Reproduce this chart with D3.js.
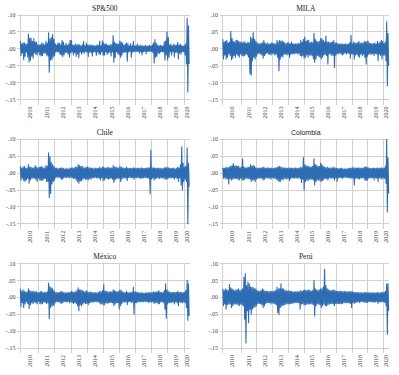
<!DOCTYPE html>
<html>
<head>
<meta charset="utf-8">
<script src="https://cdn.jsdelivr.net/npm/d3@7"></script>
<style>
	body { margin: 0; background: #fff; }
	svg { display: block; }
	.grid line { stroke: #c6c6c6; stroke-width: 0.8; shape-rendering: crispEdges; }
	.tick-label { font-family: "Liberation Serif", "DejaVu Serif", serif; font-size: 6px; fill: #444; }
	.title { font-family: "Liberation Serif", serif; font-size: 7.5px; fill: #222; }
	.title.sans { font-family: "Liberation Sans", Arial, sans-serif; font-size: 7px; }
	.series { fill: none; stroke: #2e6db4; stroke-width: 1.1; stroke-linejoin: round; }
</style>
</head>
<body>
<div id="graphic"></div>
<script>

// first month of the daily series shown (Nov 2009), one hi/lo pair per month, in %
const startYear = 2009;
const startMonth = 10;
const endYear = 2020 + 4 / 12;

const yTicks = [0.10, 0.05, 0, -0.05, -0.10, -0.15];
const yearLabels = [2010, 2011, 2012, 2013, 2014, 2015, 2016, 2017, 2018, 2019, 2020];

// SP&500
const spHi = [2.3, 1.5,
	1.8, 1.8, 1.4, 1.4, 4.4, 3.2, 3.1, 2.2, 3.0, 2.0, 2.0, 1.2,
	1.2, 1.2, 1.8, 1.5, 1.2, 2.2, 1.6, 4.7, 2.9, 3.4, 4.2, 2.9,
	1.5, 1.1, 1.8, 1.6, 1.2, 2.5, 2.0, 1.0, 1.6, 1.0, 1.4, 2.5,
	2.5, 1.1, 1.0, 1.4, 1.1, 1.4, 1.1, 0.9, 1.2, 2.2, 0.9, 1.7,
	1.1, 1.2, 1.0, 1.1, 1.0, 0.9, 0.9, 1.2, 1.0, 2.3, 0.9, 2.4,
	1.8, 1.3, 1.4, 1.1, 1.0, 1.2, 1.2, 3.9, 2.0, 1.6, 1.5, 1.4,
	2.4, 2.0, 1.7, 1.0, 1.4, 1.8, 1.5, 0.9, 1.5, 0.9, 2.2, 0.9,
	0.9, 1.4, 0.9, 1.1, 0.9, 0.9, 0.8, 1.0, 0.8, 0.9, 1.0, 0.8,
	1.2, 1.8, 2.7, 1.7, 1.1, 0.9, 1.1, 0.9, 0.8, 2.1, 2.3, 5.0,
	3.4, 1.1, 1.4, 0.9, 1.3, 1.1, 1.1, 1.9, 1.1, 1.4, 0.9, 0.9,
	1.0, 1.5, 9.0, 6.8];
const spLo = [-2.0, -1.2,
	-3.2, -2.2, -1.0, -2.4, -3.9, -3.4, -2.2, -2.8, -1.2, -1.6, -1.8, -0.9,
	-1.8, -2.1, -2.0, -1.2, -1.3, -1.8, -2.1, -6.9, -3.3, -3.2, -2.4, -2.0,
	-0.9, -0.9, -0.9, -1.7, -1.8, -2.3, -1.8, -1.1, -1.1, -1.5, -2.4, -1.2,
	-0.9, -1.8, -1.1, -2.3, -1.5, -2.6, -0.9, -1.6, -1.0, -1.3, -0.8, -1.0,
	-2.3, -0.9, -1.1, -2.1, -0.9, -0.9, -2.0, -0.9, -1.6, -1.7, -0.9, -1.9,
	-1.9, -0.9, -1.7, -1.2, -1.0, -2.1, -0.9, -4.0, -2.6, -0.9, -1.4, -1.8,
	-2.5, -1.9, -1.1, -1.0, -1.0, -3.7, -0.9, -0.8, -2.5, -0.9, -0.9, -0.8,
	-0.8, -0.8, -1.2, -0.9, -1.8, -0.9, -0.8, -1.5, -0.8, -0.8, -0.8, -0.8,
	-1.1, -4.2, -2.5, -2.2, -1.2, -1.4, -0.9, -0.9, -0.9, -3.3, -1.8, -3.3,
	-2.5, -0.9, -1.9, -0.8, -2.4, -1.0, -1.1, -3.0, -1.2, -1.6, -0.8, -1.0,
	-1.8, -4.5, -12.8, -4.5];

// MILA
const milaHi = [2.8, 2.0,
	2.2, 2.5, 1.8, 2.0, 5.2, 3.0, 2.2, 2.0, 2.5, 2.5, 2.2, 2.0,
	2.0, 1.8, 2.2, 1.8, 1.6, 2.0, 1.8, 3.5, 3.0, 4.8, 2.8, 2.2,
	1.8, 1.5, 1.5, 1.6, 1.8, 2.5, 1.8, 1.4, 1.8, 1.4, 1.5, 1.8,
	1.6, 1.5, 1.4, 2.5, 2.0, 2.5, 2.2, 2.4, 2.0, 1.8, 1.5, 1.8,
	1.8, 1.5, 2.0, 1.5, 1.5, 1.4, 1.5, 1.6, 1.5, 2.5, 2.0, 2.8,
	3.5, 2.2, 2.5, 2.5, 1.8, 2.0, 1.8, 4.6, 2.8, 2.2, 2.0, 2.2,
	3.0, 3.0, 2.5, 2.0, 3.8, 2.0, 2.0, 1.8, 2.0, 2.0, 2.5, 1.8,
	1.8, 1.5, 1.5, 1.4, 1.5, 1.4, 1.3, 1.5, 1.3, 1.4, 1.8, 4.0,
	1.5, 2.0, 1.8, 1.6, 1.8, 2.2, 1.6, 1.8, 1.6, 2.2, 2.0, 2.2,
	2.2, 1.6, 1.6, 1.5, 1.5, 1.8, 1.4, 2.2, 1.6, 2.0, 2.5, 2.2,
	1.6, 2.0, 8.0, 4.5];
const milaLo = [-3.0, -1.8,
	-3.0, -2.5, -1.5, -2.0, -3.2, -2.8, -2.0, -2.5, -1.6, -2.0, -2.5, -1.5,
	-2.0, -2.2, -2.0, -1.5, -1.8, -2.5, -7.4, -7.8, -3.5, -2.5, -3.0, -2.2,
	-1.5, -1.3, -1.5, -1.8, -2.8, -2.0, -1.5, -1.2, -1.5, -1.6, -1.8, -1.3,
	-1.5, -1.8, -1.6, -2.5, -6.5, -3.0, -2.2, -2.5, -1.6, -1.5, -1.8, -1.6,
	-2.5, -1.6, -1.5, -1.4, -1.5, -1.2, -1.5, -1.3, -2.0, -2.2, -2.0, -2.8,
	-2.5, -1.8, -2.5, -1.8, -1.8, -2.0, -3.0, -4.0, -3.0, -2.0, -2.2, -2.5,
	-3.0, -2.5, -1.8, -1.6, -2.0, -4.5, -1.5, -1.5, -2.0, -1.8, -5.5, -1.8,
	-1.5, -1.4, -1.3, -1.5, -1.8, -1.5, -1.2, -1.5, -1.2, -1.4, -2.8, -1.5,
	-1.5, -3.0, -1.8, -1.6, -2.2, -2.5, -1.5, -2.0, -1.6, -2.5, -4.5, -2.2,
	-1.6, -1.5, -1.6, -1.5, -2.0, -1.4, -1.5, -3.5, -1.5, -2.0, -3.0, -1.8,
	-1.8, -3.5, -11.0, -5.0];

// Chile
const chileHi = [2.0, 1.5,
	1.8, 2.0, 1.5, 1.5, 2.5, 1.8, 1.8, 1.5, 1.6, 2.2, 1.8, 1.5,
	1.8, 1.8, 2.0, 1.6, 1.5, 2.2, 2.0, 6.0, 5.0, 3.2, 2.5, 2.0,
	1.5, 1.5, 1.3, 1.4, 1.5, 1.6, 1.4, 1.2, 1.5, 1.2, 1.3, 1.5,
	1.5, 1.6, 1.5, 1.8, 1.8, 2.5, 2.2, 2.0, 2.0, 1.6, 1.6, 1.8,
	1.8, 1.6, 1.6, 1.4, 1.5, 1.3, 1.5, 1.4, 1.4, 1.8, 1.4, 1.8,
	1.8, 1.5, 1.5, 1.8, 1.6, 1.5, 1.6, 2.2, 1.8, 1.8, 1.6, 1.5,
	2.0, 1.8, 1.6, 1.5, 1.4, 1.8, 1.4, 1.4, 1.4, 1.4, 1.6, 1.4,
	1.5, 1.4, 1.5, 1.4, 1.6, 1.4, 1.4, 1.4, 1.5, 1.6, 1.6, 6.8,
	1.5, 1.6, 1.5, 1.4, 1.4, 1.5, 1.4, 1.3, 1.4, 1.6, 1.6, 1.8,
	1.6, 1.4, 1.4, 1.4, 1.5, 1.3, 1.4, 1.8, 1.5, 2.5, 7.8, 3.0,
	1.8, 2.0, 7.5, 3.0];
const chileLo = [-2.0, -1.5,
	-2.2, -2.5, -2.0, -1.5, -3.0, -2.0, -1.5, -1.5, -1.5, -1.8, -2.5, -1.5,
	-2.0, -2.2, -2.0, -1.8, -1.6, -2.5, -2.5, -7.2, -6.0, -3.2, -2.5, -2.0,
	-1.3, -1.2, -1.2, -1.4, -1.8, -1.8, -1.3, -1.2, -1.4, -1.2, -1.4, -1.2,
	-1.4, -1.6, -1.6, -2.0, -2.5, -3.0, -2.4, -2.2, -1.8, -1.6, -1.8, -1.8,
	-2.0, -1.6, -1.8, -1.4, -1.4, -1.3, -1.4, -1.4, -1.5, -2.0, -1.4, -2.2,
	-2.0, -1.5, -1.6, -1.8, -1.6, -1.5, -1.8, -2.8, -2.0, -1.6, -1.6, -1.6,
	-2.5, -1.8, -1.4, -1.4, -1.5, -2.2, -1.3, -1.3, -1.4, -1.4, -1.8, -1.3,
	-1.4, -1.4, -1.4, -1.5, -1.5, -1.4, -1.3, -1.4, -1.4, -1.5, -6.2, -1.8,
	-1.5, -2.0, -1.6, -1.5, -1.4, -1.6, -1.4, -1.5, -1.4, -1.8, -1.8, -1.6,
	-1.5, -1.4, -1.4, -1.4, -1.8, -1.3, -1.6, -2.5, -1.4, -3.5, -5.0, -2.5,
	-1.8, -2.5, -15.0, -4.0];

// Colombia
const colHi = [1.6, 1.5,
	1.5, 1.8, 1.6, 1.8, 2.0, 2.2, 2.8, 2.0, 2.2, 2.0, 2.0, 1.6,
	1.8, 4.2, 1.8, 1.6, 1.5, 1.8, 1.8, 2.5, 2.0, 2.2, 2.0, 1.6,
	1.5, 1.4, 1.5, 1.6, 1.6, 1.8, 1.5, 1.4, 1.6, 1.5, 1.4, 1.5,
	1.4, 1.5, 1.5, 1.8, 1.8, 2.0, 1.8, 1.6, 1.6, 1.5, 1.5, 1.4,
	1.6, 1.5, 1.5, 1.4, 1.5, 1.5, 1.4, 1.5, 1.5, 1.8, 1.6, 4.6,
	2.5, 2.2, 2.0, 2.0, 1.8, 1.8, 2.0, 4.2, 2.5, 2.2, 2.0, 2.0,
	3.0, 2.5, 2.0, 1.8, 1.6, 1.8, 1.5, 1.5, 1.6, 1.5, 1.8, 1.5,
	1.4, 1.4, 1.3, 1.4, 1.5, 1.3, 1.2, 1.3, 1.3, 1.4, 1.4, 1.5,
	1.6, 1.6, 1.5, 1.5, 1.5, 1.6, 1.4, 1.5, 1.4, 1.8, 1.8, 1.8,
	1.6, 1.4, 1.4, 1.4, 1.5, 1.4, 1.4, 1.6, 1.4, 1.5, 1.6, 1.4,
	1.5, 2.0, 10.0, 4.5];
const colLo = [-1.5, -1.4,
	-1.8, -1.6, -3.2, -1.6, -2.0, -1.8, -1.5, -1.6, -1.6, -1.8, -2.0, -1.5,
	-2.0, -2.0, -1.8, -1.5, -1.6, -1.6, -1.8, -2.5, -2.0, -2.0, -2.5, -1.8,
	-1.5, -1.6, -1.4, -1.6, -2.0, -1.8, -1.4, -1.5, -1.4, -1.5, -1.8, -1.3,
	-1.5, -1.6, -1.8, -2.0, -2.5, -2.5, -1.8, -2.0, -1.6, -1.5, -1.8, -1.5,
	-2.2, -1.6, -1.4, -1.4, -1.5, -1.4, -1.5, -1.4, -1.6, -2.8, -1.8, -5.0,
	-2.5, -2.0, -2.2, -1.8, -1.8, -1.8, -2.0, -3.5, -2.5, -2.0, -2.0, -2.2,
	-2.5, -2.2, -1.8, -1.6, -1.6, -2.0, -1.5, -1.4, -1.5, -1.5, -2.0, -1.4,
	-2.5, -1.4, -1.3, -1.4, -1.6, -1.3, -1.2, -1.3, -1.3, -1.4, -1.5, -1.4,
	-1.5, -3.5, -1.5, -1.5, -1.6, -1.8, -1.4, -1.5, -1.4, -2.0, -2.2, -2.0,
	-1.5, -1.4, -1.4, -1.4, -2.0, -1.4, -1.5, -2.5, -1.4, -1.5, -1.8, -1.4,
	-1.6, -3.0, -11.5, -6.0];

// México
const mexHi = [2.5, 1.8,
	2.2, 1.8, 1.5, 1.6, 2.5, 2.0, 1.8, 1.6, 1.8, 1.6, 1.6, 1.4,
	1.5, 1.6, 1.8, 1.4, 1.4, 1.5, 1.6, 4.2, 3.2, 2.8, 2.5, 2.0,
	1.5, 1.4, 1.4, 1.5, 1.6, 1.8, 1.4, 1.3, 1.4, 1.3, 1.4, 1.5,
	1.8, 1.6, 1.5, 1.6, 2.0, 2.8, 2.2, 2.2, 2.0, 1.8, 1.6, 2.0,
	1.6, 1.5, 1.6, 1.4, 1.4, 1.3, 1.4, 1.3, 1.4, 1.8, 1.6, 2.0,
	3.8, 1.8, 1.8, 1.6, 1.6, 1.6, 1.6, 2.2, 2.0, 1.8, 1.6, 1.8,
	2.2, 2.0, 1.6, 1.4, 1.4, 1.8, 1.4, 1.3, 1.4, 1.5, 3.0, 1.6,
	1.6, 1.4, 1.4, 1.3, 1.3, 1.3, 1.2, 1.3, 1.3, 1.4, 1.3, 1.4,
	1.4, 1.6, 1.5, 1.6, 1.6, 2.0, 1.5, 1.4, 1.4, 2.0, 4.0, 2.2,
	1.8, 1.5, 1.5, 1.4, 1.5, 1.5, 1.4, 1.8, 1.5, 1.5, 1.4, 1.4,
	1.5, 2.0, 5.0, 4.0];
const mexLo = [-2.8, -1.6,
	-3.0, -2.0, -1.4, -1.8, -3.2, -2.2, -1.6, -1.8, -1.4, -1.6, -2.0, -1.2,
	-1.8, -2.0, -1.8, -1.4, -1.5, -1.8, -1.6, -6.3, -3.0, -2.5, -2.5, -2.0,
	-1.4, -1.3, -1.3, -1.6, -1.8, -1.6, -1.3, -1.3, -1.4, -1.3, -1.6, -1.3,
	-1.6, -1.8, -1.5, -1.8, -2.5, -4.0, -2.2, -2.5, -2.0, -1.6, -1.8, -1.8,
	-2.2, -1.6, -1.5, -1.4, -1.4, -1.3, -1.3, -1.3, -1.5, -2.0, -1.8, -2.2,
	-2.2, -1.6, -1.8, -1.6, -1.6, -1.5, -1.6, -2.5, -2.0, -1.6, -1.6, -3.5,
	-2.5, -1.8, -1.4, -1.4, -1.4, -2.2, -1.3, -1.3, -1.5, -1.4, -5.0, -1.6,
	-1.6, -1.4, -1.3, -1.3, -1.4, -1.3, -1.2, -1.3, -1.3, -1.5, -1.4, -1.4,
	-1.4, -1.8, -1.5, -1.6, -2.0, -1.8, -1.4, -1.4, -1.5, -3.5, -6.2, -2.0,
	-1.6, -1.6, -1.5, -1.4, -2.0, -1.4, -1.6, -2.5, -1.4, -1.5, -1.6, -1.4,
	-1.6, -3.0, -6.8, -5.5];

// Perú
const peruHi = [2.5, 2.0,
	2.5, 2.2, 2.0, 3.8, 2.8, 2.5, 2.2, 2.0, 2.2, 2.2, 2.5, 2.0,
	2.2, 2.5, 6.0, 7.0, 3.5, 4.5, 4.0, 3.0, 3.0, 2.8, 2.5, 2.5,
	2.0, 1.8, 1.8, 2.0, 2.5, 2.2, 1.8, 1.8, 1.8, 1.6, 1.8, 1.8,
	1.8, 1.8, 2.0, 3.0, 2.5, 2.5, 4.0, 2.5, 2.5, 2.0, 2.0, 1.8,
	2.0, 1.8, 1.8, 1.6, 1.6, 1.6, 1.6, 1.8, 1.6, 2.0, 1.8, 2.0,
	2.2, 2.0, 2.0, 2.2, 2.0, 1.8, 2.0, 5.0, 2.5, 2.2, 2.0, 2.2,
	2.5, 2.5, 3.0, 8.3, 3.5, 2.5, 2.2, 2.0, 2.0, 2.0, 2.2, 2.0,
	1.8, 1.8, 1.8, 1.8, 1.8, 1.6, 1.8, 1.6, 1.6, 1.6, 1.6, 1.8,
	1.6, 1.5, 1.5, 1.4, 1.4, 1.4, 1.3, 1.3, 1.3, 1.4, 1.4, 1.4,
	1.4, 1.3, 1.3, 1.3, 1.3, 1.3, 1.3, 1.4, 1.3, 1.3, 1.4, 1.4,
	1.5, 1.8, 4.0, 4.0];
const peruLo = [-2.5, -2.0,
	-3.5, -2.2, -2.0, -2.0, -3.0, -2.5, -2.0, -2.0, -2.0, -2.2, -2.5, -2.0,
	-2.2, -2.5, -6.5, -13.5, -4.0, -7.5, -3.5, -5.0, -3.5, -3.0, -2.8, -2.5,
	-1.8, -1.8, -1.8, -2.2, -3.0, -2.5, -1.8, -1.6, -1.6, -1.6, -2.0, -1.6,
	-1.8, -2.0, -2.2, -4.5, -5.0, -3.0, -2.5, -2.5, -2.2, -2.0, -2.0, -1.8,
	-2.0, -1.8, -1.8, -1.6, -1.6, -1.6, -1.6, -1.6, -3.5, -2.0, -1.8, -2.2,
	-2.2, -2.0, -2.0, -2.0, -1.8, -2.0, -2.2, -5.5, -2.5, -2.0, -2.0, -2.2,
	-3.0, -2.5, -2.0, -2.5, -2.5, -2.2, -2.0, -1.8, -1.8, -2.0, -2.5, -1.8,
	-1.8, -1.8, -1.8, -2.0, -1.8, -1.6, -1.6, -1.6, -1.6, -1.6, -1.8, -3.0,
	-1.5, -1.8, -1.5, -1.4, -1.4, -1.5, -1.3, -1.3, -1.3, -1.5, -1.5, -1.5,
	-1.3, -1.3, -1.3, -1.3, -1.5, -1.3, -1.3, -1.8, -1.3, -1.4, -1.4, -1.3,
	-1.5, -2.5, -11.0, -4.0];

const panels = [
	{ name: 'SP&500', hi: spHi, lo: spLo },
	{ name: 'MILA', hi: milaHi, lo: milaLo },
	{ name: 'Chile', hi: chileHi, lo: chileLo },
	{ name: 'Colombia', hi: colHi, lo: colLo, sans: true },
	{ name: 'México', hi: mexHi, lo: mexLo },
	{ name: 'Perú', hi: peruHi, lo: peruLo }
];

const width = 399, height = 375;
// plot edges for the two columns and three rows
const colLeft = [20, 222.5];
const colRight = [189.5, 389];
const rowTop = [15, 139.3, 263.5];
const plotHeight = 84.5;

const svg = d3.select('#graphic')
	.append('svg')
	.attr('width', width)
	.attr('height', height);

const startT = startYear + startMonth / 12;
const yFmt = (v) => (v < 0 ? '-' : '') + d3.format('.2f')(Math.abs(v)).replace(/^0/, '');

function drawPanel(p, i) {
	const col = i % 2, row = Math.floor(i / 2);
	const left = colLeft[col], right = colRight[col], top = rowTop[row];

	const x = d3.scaleLinear().domain([startT, endYear]).range([left, right]);
	const y = d3.scaleLinear().domain([-0.15, 0.10]).range([top + plotHeight, top]);

	const g = svg.append('g');

	// horizontal gridlines
	g.append('g').attr('class', 'grid')
		.selectAll('line')
		.data(yTicks)
		.join('line')
		.attr('x1', left - 3)
		.attr('x2', right)
		.attr('y1', (d) => y(d))
		.attr('y2', (d) => y(d));

	// vertical gridlines at the year starts, plus the axis itself
	const yearStarts = yearLabels.slice(1);
	g.append('g').attr('class', 'grid')
		.selectAll('line')
		.data([startT, ...yearStarts])
		.join('line')
		.attr('x1', (d) => x(d))
		.attr('x2', (d) => x(d))
		.attr('y1', y(0.10))
		.attr('y2', y(-0.15) + 5);

	// y labels
	g.selectAll('.ylab')
		.data(yTicks)
		.join('text')
		.attr('class', 'tick-label')
		.attr('x', left - 4.5)
		.attr('y', (d) => y(d))
		.attr('dy', '0.35em')
		.attr('text-anchor', 'end')
		.text(yFmt);

	// year labels, centred in each year's span, rotated
	const bounds = [startT, ...yearStarts, endYear];
	g.selectAll('.xlab')
		.data(yearLabels)
		.join('text')
		.attr('class', 'tick-label')
		.attr('text-anchor', 'end')
		.attr('dy', '0.35em')
		.attr('transform', (d, k) => {
			const cx = x((bounds[k] + bounds[k + 1]) / 2);
			return `translate(${cx},${y(-0.15) + 7}) rotate(-90)`;
		})
		.text((d) => d);

	// series: monthly high/low, joined as a zigzag
	const pts = [];
	p.hi.forEach((h, k) => {
		pts.push({ t: startT + (k + 0.25) / 12, v: h / 100 });
		pts.push({ t: startT + (k + 0.75) / 12, v: p.lo[k] / 100 });
	});

	const line = d3.line().x((d) => x(d.t)).y((d) => y(d.v));
	g.append('path')
		.datum(pts)
		.attr('class', 'series')
		.attr('d', line);

	// title
	g.append('text')
		.attr('class', p.sans ? 'title sans' : 'title')
		.attr('x', (left + right) / 2)
		.attr('y', top - 4.5)
		.attr('text-anchor', 'middle')
		.text(p.name);
}

panels.forEach(drawPanel);

</script>
</body>
</html>
